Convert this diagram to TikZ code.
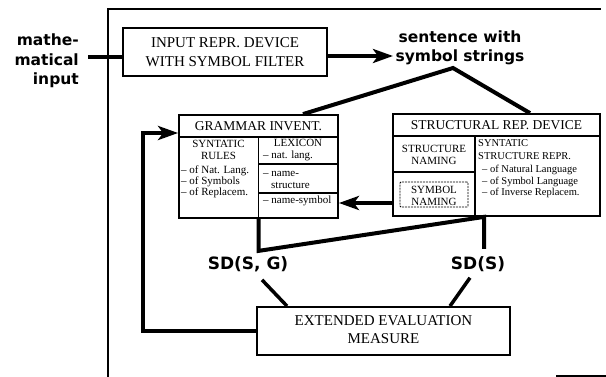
\documentclass[tikz,border=0pt]{standalone}
\usepackage{fontspec}
\setmainfont{Liberation Serif}
\newfontfamily\lblfont{DejaVu Sans}
\usetikzlibrary{arrows.meta,calc}

\begin{document}
\begin{tikzpicture}[x=1pt,y=-1pt,
  box/.style={draw, line width=1.8pt, rectangle, inner sep=0pt},
  rule/.style={line width=1.3pt},
  flow/.style={line width=4pt},
  link/.style={line width=3.5pt},
  tip/.style={-{Stealth[length=20pt,width=14pt,inset=5pt]}},
  lbl/.style={font=\lblfont\bfseries\fontsize{15.5}{19.5}\selectfont, inner sep=0pt},
  sd/.style={font=\lblfont\bfseries\fontsize{17}{20}\selectfont, inner sep=0pt},
  big/.style={font=\fontsize{15}{19}\selectfont, align=center, inner sep=0pt},
  head/.style={font=\fontsize{13.5}{16}\selectfont, inner sep=0pt},
  small/.style={font=\fontsize{11}{11.5}\selectfont, inner sep=0pt, align=center},
  item/.style={font=\fontsize{11}{11.5}\selectfont, inner sep=0pt, anchor=west},
  ritem/.style={font=\fontsize{10.5}{11}\selectfont, inner sep=0pt, anchor=west},
]
\useasboundingbox (0,0) rectangle (606,377);

% frame of the system
\draw[line width=2pt] (108,377) -- (108,9.5) -- (601,9.5);
\draw[line width=1.2pt] (556,376) -- (606,376);

% input side
\node[lbl, align=right, anchor=east] (mathin) at (79,61) {mathe-\\matical\\input};
\node[box, minimum width=204pt, minimum height=48pt] (inp) at (225,52) {};
\node[big] (inptxt) at (225,52) {INPUT REPR. DEVICE\\WITH SYMBOL FILTER};
\coordinate (mline) at (88,57);
\draw[flow] (mline) -- (inp.west |- mline);

\node[lbl, align=center] (sent) at (460,48) {sentence with\\symbol strings};
\coordinate (sentin) at (393,56);
\draw[flow, tip] (inp.east |- sentin) -- (sentin);

% grammar inventory
\node[box, minimum width=159pt, minimum height=103pt] (gram) at (258.5,166.5) {};
\draw[rule] (179,137) -- (338,137);
\draw[rule] (258.5,137) -- (258.5,218);
\draw[rule] (258.5,164) -- (338,164);
\draw[rule] (258.5,193) -- (338,193);
\node[head] (gramtitle) at (258.5,126.5) {GRAMMAR INVENT.};
\node[small] (synrules) at (218.5,150) {SYNTATIC\\RULES};
\node[item] (gl1) at (181,171) {– of Nat. Lang.};
\node[item] (gl2) at (181,182) {– of Symbols};
\node[item] (gl3) at (181,193) {– of Replacem.};
\node[small] (lexicon) at (298,143) {LEXICON};
\node[item] (lx1) at (263,156) {– nat. lang.};
\node[item] (lx2) at (263,174) {– name-};
\node[item] (lx3) at (271,185) {structure};
\node[item] (lx4) at (263,201) {– name-symbol};

% structural representation device
\node[box, minimum width=207pt, minimum height=102pt] (str) at (496.5,165) {};
\draw[rule] (393,136) -- (600,136);
\draw[rule] (475,136) -- (475,216);
\draw[rule] (393,172) -- (475,172);
\node[head] (strtitle) at (496.5,125.5) {STRUCTURAL REP. DEVICE};
\node[small] (strnam) at (434,155) {STRUCTURE\\NAMING};
\node[draw, line width=0.8pt, dash pattern=on 2pt off 1pt, rounded corners=1pt,
      minimum width=68pt, minimum height=25pt, inner sep=0pt] (symn) at (434,194.5) {};
\node[small] (symntxt) at (434,196) {SYMBOL\\NAMING};
\node[ritem] (sr1) at (478,143) {SYNTATIC};
\node[ritem] (sr2) at (478,156) {STRUCTURE REPR.};
\node[ritem] (sr3) at (482,170) {– of Natural Language};
\node[ritem] (sr4) at (482,181.5) {– of Symbol Language};
\node[ritem] (sr5) at (482,193) {– of Inverse Replacem.};

% sentence split into both devices
\coordinate (peak) at (453,68);
\coordinate (pl) at (303,0);
\coordinate (pr) at (530,0);
\draw[flow, line join=miter] (gram.north -| pl) -- (peak) -- (str.north -| pr);

% symbol naming back to the lexicon
\coordinate (ay) at (0,203);
\draw[flow, tip] (str.west |- ay) -- (gram.east |- ay);

% structural descriptions
\coordinate (xg) at (258.5,0);
\coordinate (xs) at (484,0);
\draw[flow, line join=miter] (gram.south -| xg) -- ++(0,32) -- (str.south -| xs) -- ++(0,32);
\node[sd] (sdsg) at (248,264) {SD(S, G)};
\node[sd] (sds) at (478,264) {SD(S)};

% evaluation measure
\node[box, minimum width=253pt, minimum height=48pt] (eval) at (383.5,331) {};
\node[big, font=\fontsize{15}{18}\selectfont] (evaltxt) at (383.5,330) {EXTENDED EVALUATION\\MEASURE};
\coordinate (ea) at (287,0);
\coordinate (eb) at (450,0);
\draw[link] ([xshift=14pt,yshift=-8pt]sdsg.south) -- (eval.north -| ea);
\draw[link] ([xshift=-8pt,yshift=-6pt]sds.south) -- (eval.north -| eb);

% feedback to the grammar
\coordinate (fbx) at (143,331);
\coordinate (fbtop) at (143,133);
\draw[flow, tip, line join=miter] (eval.west) -- (fbx) -- (fbtop) -- (gram.west |- fbtop);
\end{tikzpicture}
\end{document}
